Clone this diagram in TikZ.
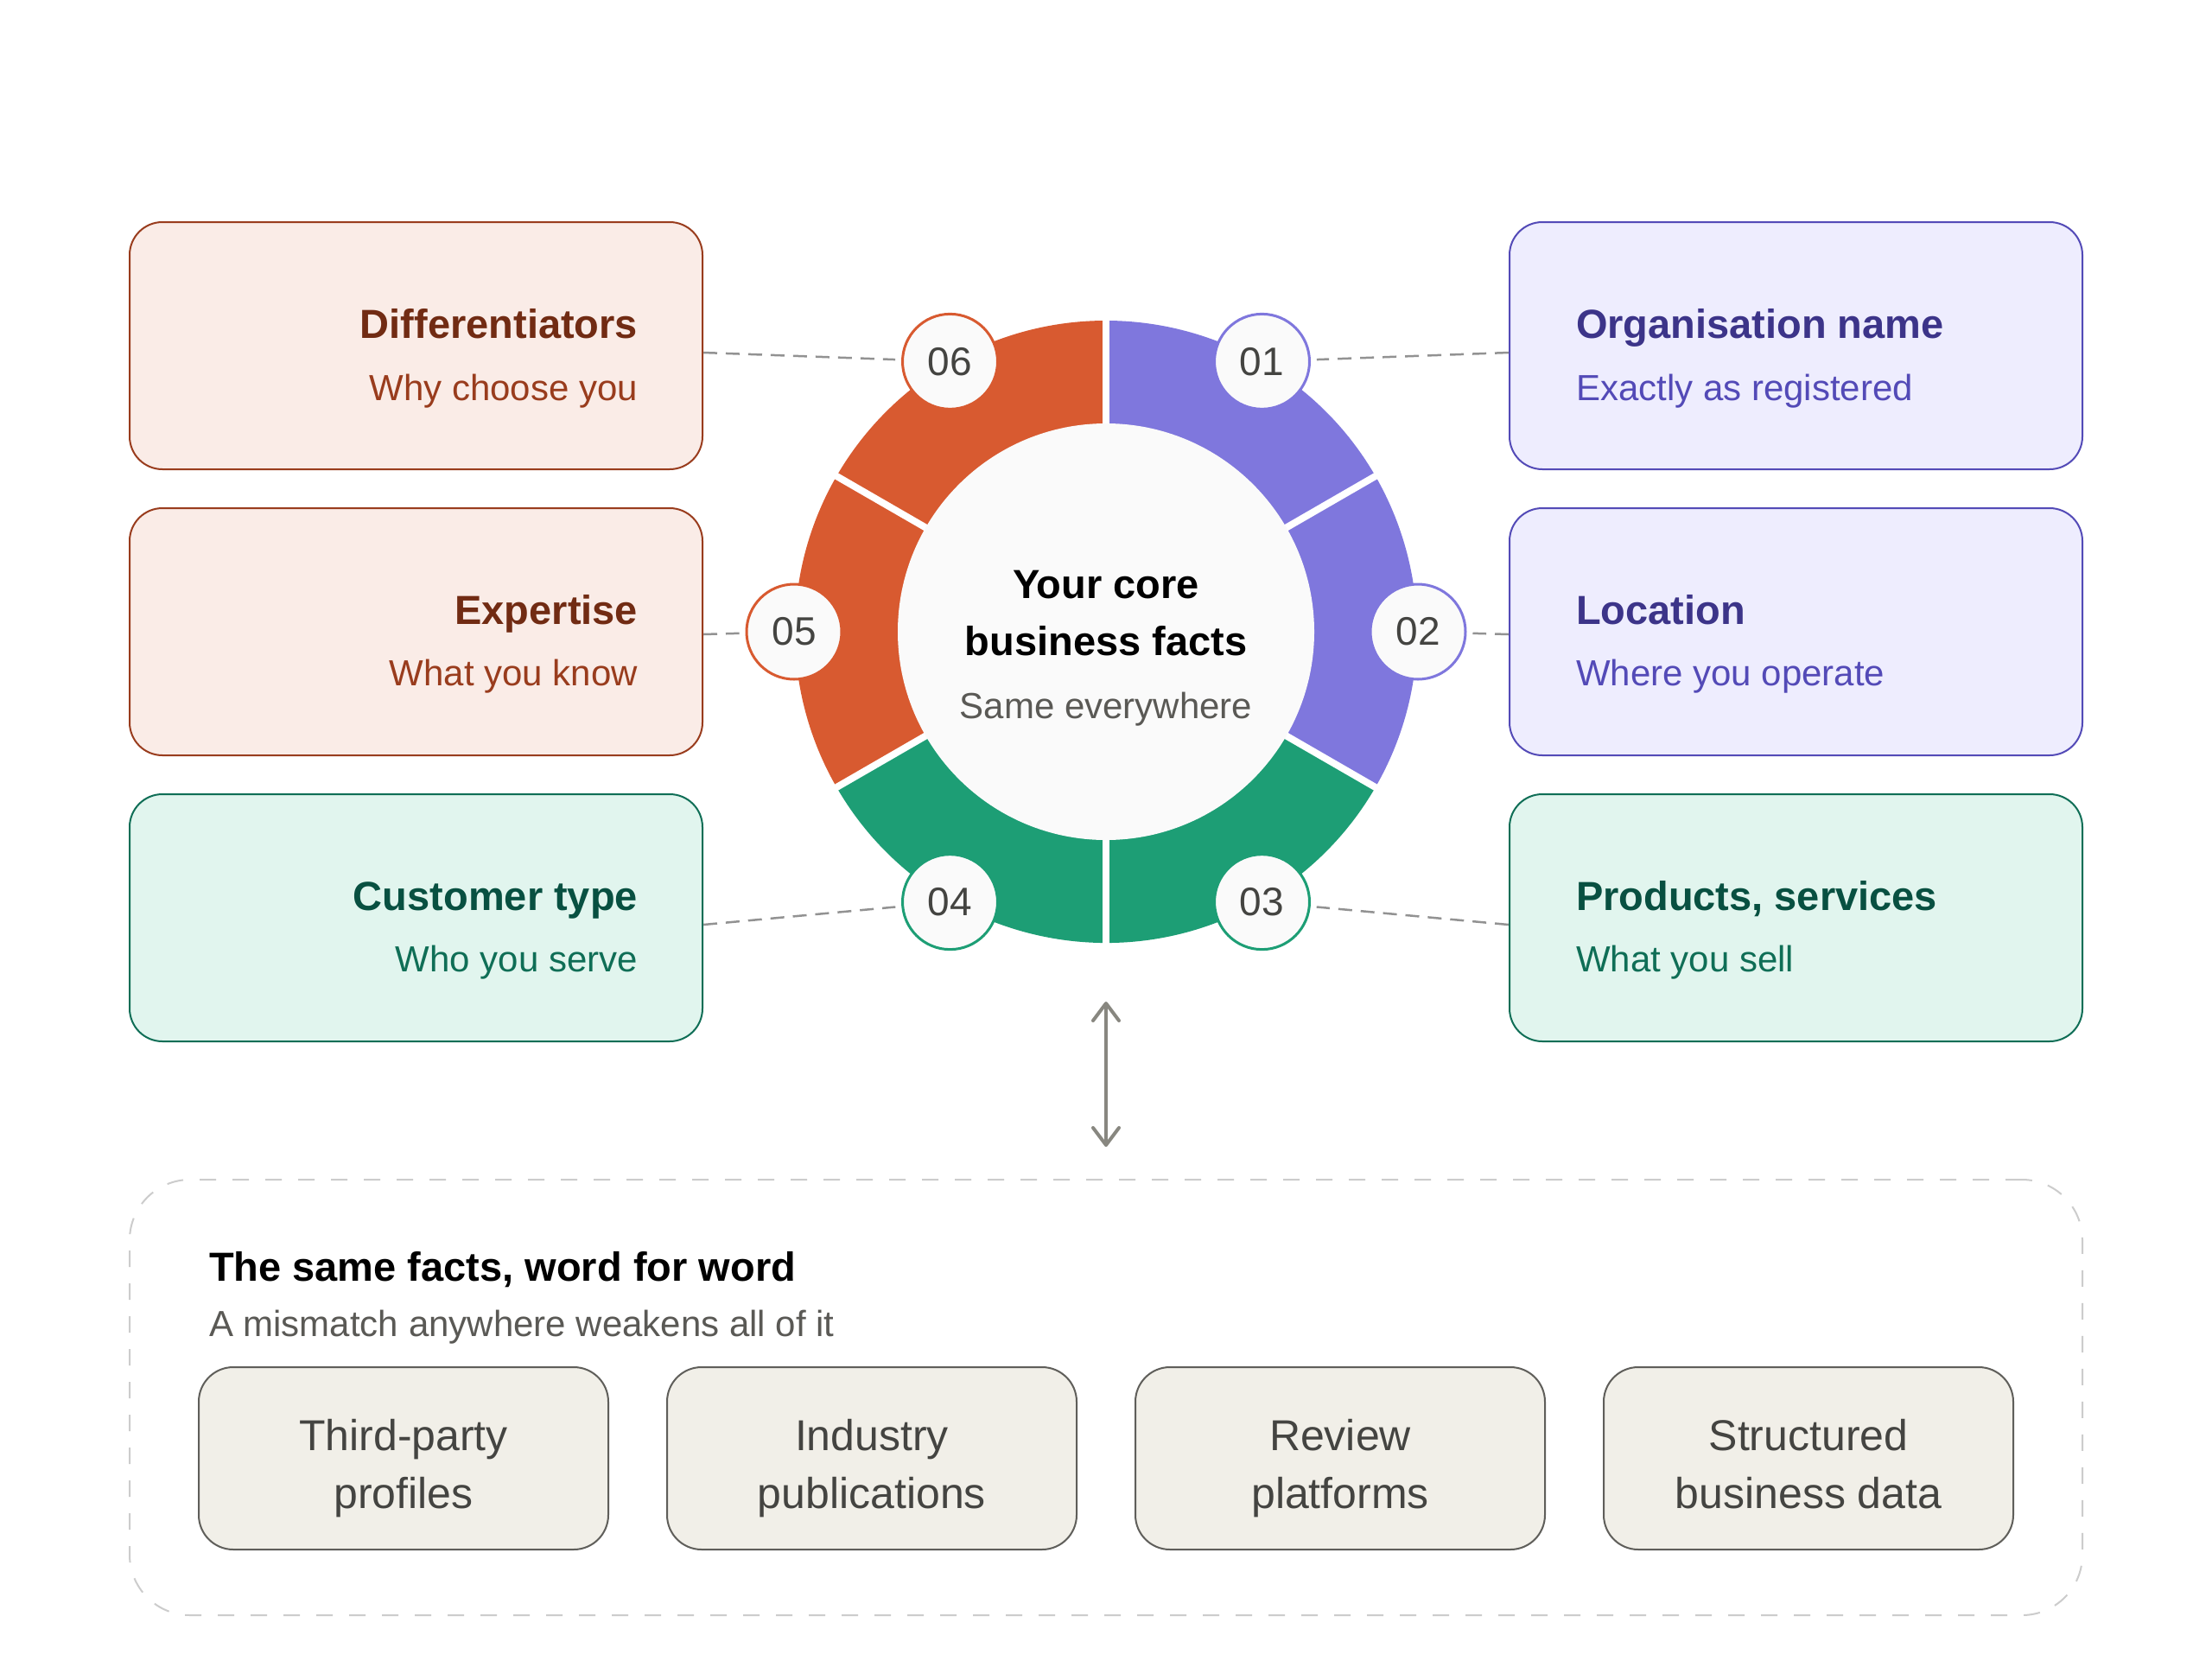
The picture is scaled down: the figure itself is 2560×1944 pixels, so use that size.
\documentclass[tikz,border=0pt]{standalone}
\usepackage{fontspec}
\setmainfont{Liberation Sans}
\usetikzlibrary{arrows.meta,calc}
\definecolor{coralA}{HTML}{D85A30}
\definecolor{coralL}{HTML}{FAECE7}
\definecolor{coralD}{HTML}{993C1D}
\definecolor{coralH}{HTML}{712B13}
\definecolor{purpA}{HTML}{7F77DD}
\definecolor{purpL}{HTML}{EEEDFE}
\definecolor{purpD}{HTML}{534AB7}
\definecolor{purpH}{HTML}{3C3489}
\definecolor{tealA}{HTML}{1D9E75}
\definecolor{tealL}{HTML}{E1F5EE}
\definecolor{tealD}{HTML}{0F6E56}
\definecolor{tealH}{HTML}{085041}
\definecolor{chipF}{HTML}{F1EFE8}
\definecolor{chipB}{HTML}{5F5E5A}
\definecolor{chipT}{HTML}{444441}
\definecolor{grayT}{HTML}{5A5955}
\definecolor{coreF}{HTML}{FAFAFA}
\definecolor{connC}{HTML}{929292}
\definecolor{dashC}{HTML}{CCCCCC}
\definecolor{arrC}{HTML}{888780}
\newcommand{\fHead}{\fontsize{47}{56}\selectfont\bfseries}
\newcommand{\fSub}{\fontsize{42}{50}\selectfont}
\newcommand{\fNum}{\fontsize{46}{50}\selectfont}
\newcommand{\fChip}{\fontsize{50}{60}\selectfont}
\tikzset{
  card/.style={draw, line width=2pt, rounded corners=38pt, minimum width=663pt, minimum height=286pt, inner sep=0pt},
  chip/.style={draw=chipB, fill=chipF, line width=2pt, rounded corners=40pt, minimum width=474pt, minimum height=211pt, inner sep=0pt},
  num/.style={circle, fill=coreF, line width=3pt, minimum size=110pt, inner sep=0pt, font=\fNum, text=chipT},
  txt/.style={inner sep=0pt, outer sep=0pt},
  conn/.style={draw=connC, line width=2.5pt, dash pattern=on 16pt off 10pt},
}
\begin{document}
\begin{tikzpicture}[x=1pt,y=1pt]
\path[use as bounding box] (0,0) rectangle (2560,-1944);
\fill[white] (0,0) rectangle (2560,-1944);

% ring
\coordinate (C) at (1280,-731);
\fill[purpA] (C) -- ++(-30:360) arc[start angle=-30,end angle=90,radius=360] -- cycle;
\fill[tealA] (C) -- ++(-150:360) arc[start angle=-150,end angle=-30,radius=360] -- cycle;
\fill[coralA] (C) -- ++(90:360) arc[start angle=90,end angle=210,radius=360] -- cycle;
\foreach \a in {90,30,-30,-90,-150,150}
  \draw[white, line width=8pt] (C) -- ++(\a:385);
\node[circle, fill=coreF, minimum size=482pt, inner sep=0pt] (core) at (C) {};

% centre text
\node[txt, anchor=base, font=\fHead, text=black] (k1) at (1280,-692) {Your core};
\node[txt, anchor=base, font=\fHead, text=black] (k2) at (1280,-758) {business facts};
\node[txt, anchor=base, font=\fSub, text=grayT] (k3) at (1280,-831) {Same everywhere};

% number circles
\node[num, draw=purpA] (n1) at ($(C)+(60:361)$) {01};
\node[num, draw=purpA] (n2) at ($(C)+(0:361)$) {02};
\node[num, draw=tealA] (n3) at ($(C)+(-60:361)$) {03};
\node[num, draw=tealA] (n4) at ($(C)+(240:361)$) {04};
\node[num, draw=coralA] (n5) at ($(C)+(180:361)$) {05};
\node[num, draw=coralA] (n6) at ($(C)+(120:361)$) {06};

% cards left
\node[card, fill=coralL, draw=coralD] (d6) at (481.5,-400) {};
\node[card, fill=coralL, draw=coralD] (d5) at (481.5,-731) {};
\node[card, fill=tealL, draw=tealD] (d4) at (481.5,-1062) {};
% cards right
\node[card, fill=purpL, draw=purpD] (d1) at (2078.5,-400) {};
\node[card, fill=purpL, draw=purpD] (d2) at (2078.5,-731) {};
\node[card, fill=tealL, draw=tealD] (d3) at (2078.5,-1062) {};

% card texts
\node[txt, anchor=base east, font=\fHead, text=coralH] (d6t) at (738,-391) {Differentiators};
\node[txt, anchor=base east, font=\fSub, text=coralD] (d6s) at (738,-463) {Why choose you};
\node[txt, anchor=base east, font=\fHead, text=coralH] (d5t) at (738,-722) {Expertise};
\node[txt, anchor=base east, font=\fSub, text=coralD] (d5s) at (738,-793) {What you know};
\node[txt, anchor=base east, font=\fHead, text=tealH] (d4t) at (738,-1053) {Customer type};
\node[txt, anchor=base east, font=\fSub, text=tealD] (d4s) at (738,-1124) {Who you serve};

\node[txt, anchor=base west, font=\fHead, text=purpH] (d1t) at (1824,-391) {Organisation name};
\node[txt, anchor=base west, font=\fSub, text=purpD] (d1s) at (1824,-463) {Exactly as registered};
\node[txt, anchor=base west, font=\fHead, text=purpH] (d2t) at (1824,-722) {Location};
\node[txt, anchor=base west, font=\fSub, text=purpD] (d2s) at (1824,-793) {Where you operate};
\node[txt, anchor=base west, font=\fHead, text=tealH] (d3t) at (1824,-1053) {Products, services};
\node[txt, anchor=base west, font=\fSub, text=tealD] (d3s) at (1824,-1124) {What you sell};

% connectors
\draw[conn, shorten >=7pt] ([yshift=-8pt]d6.east) -- (n6);
\draw[conn, shorten >=7pt] ([yshift=-3pt]d5.east) -- (n5);
\draw[conn, shorten >=7pt] ([yshift=-8pt]d4.east) -- (n4);
\draw[conn, shorten >=7pt] ([yshift=-8pt]d1.west) -- (n1);
\draw[conn, shorten >=7pt] ([yshift=-3pt]d2.west) -- (n2);
\draw[conn, shorten >=7pt] ([yshift=-8pt]d3.west) -- (n3);

% arrow
\coordinate (a1) at (1280,-1159);
\coordinate (a2) at (1280,-1327);
\draw[arrC, line width=4pt, line cap=round, {Straight Barb[length=20pt,width=30pt,round]}-{Straight Barb[length=20pt,width=30pt,round]}] (a1) -- (a2);

% container
\node[draw=dashC, line width=2pt, dash pattern=on 19pt off 19pt, rounded corners=70pt, minimum width=2260pt, minimum height=504pt, inner sep=0pt] (facts) at (1280,-1617) {};
\node[txt, anchor=base west, font=\fHead, text=black] (ft) at (242,-1482) {The same facts, word for word};
\node[txt, anchor=base west, font=\fSub, text=grayT] (fs) at (242,-1546) {A mismatch anywhere weakens all of it};

% chips
\node[chip] (c1) at (467,-1687.5) {};
\node[chip] (c2) at (1009,-1687.5) {};
\node[chip] (c3) at (1551,-1687.5) {};
\node[chip] (c4) at (2093,-1687.5) {};
\node[txt, anchor=base, font=\fChip, text=chipT] (c1a) at (467,-1678) {Third-party};
\node[txt, anchor=base, font=\fChip, text=chipT] (c1b) at (467,-1745) {profiles};
\node[txt, anchor=base, font=\fChip, text=chipT] (c2a) at (1009,-1678) {Industry};
\node[txt, anchor=base, font=\fChip, text=chipT] (c2b) at (1009,-1745) {publications};
\node[txt, anchor=base, font=\fChip, text=chipT] (c3a) at (1551,-1678) {Review};
\node[txt, anchor=base, font=\fChip, text=chipT] (c3b) at (1551,-1745) {platforms};
\node[txt, anchor=base, font=\fChip, text=chipT] (c4a) at (2093,-1678) {Structured};
\node[txt, anchor=base, font=\fChip, text=chipT] (c4b) at (2093,-1745) {business data};
\end{tikzpicture}
\end{document}
